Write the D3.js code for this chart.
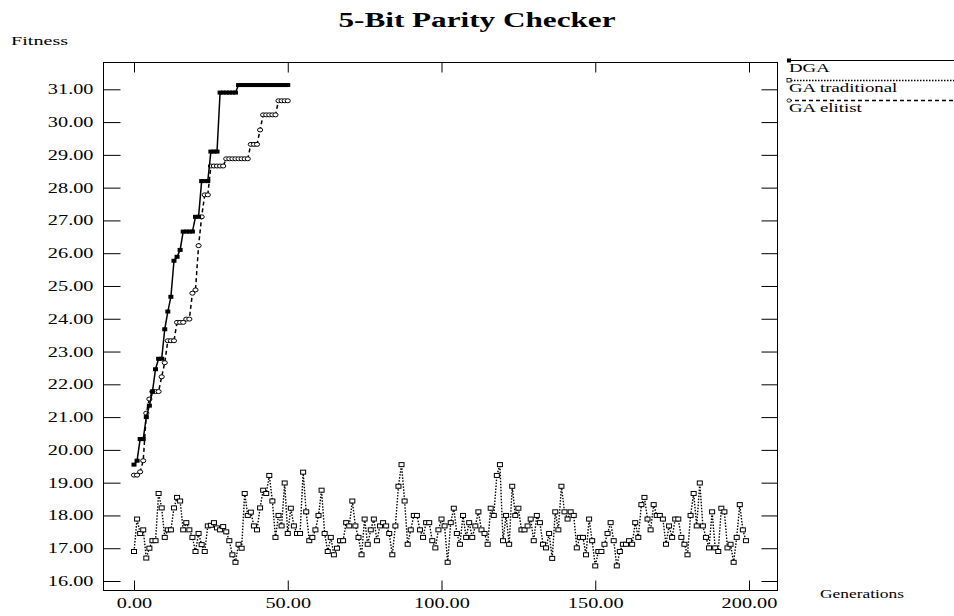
<!DOCTYPE html>
<html>
<head>
<meta charset="utf-8">
<script src="https://cdn.jsdelivr.net/npm/d3@7"></script>
<style>
  body { margin: 0; background: #fff; }
  svg { display: block; }
</style>
</head>
<body>
<svg id="chart" width="954" height="616"></svg>
<script>
// generations are the array index (0, 1, 2, ...)
const dgaValues = [
  19.55, 19.67, 20.33, 20.33, 21.0, 21.35, 21.78, 22.46, 22.78, 22.78,
  23.68, 24.22, 24.67, 25.77, 25.89, 26.10, 26.66, 26.66, 26.66, 26.66,
  27.11, 27.11, 28.2, 28.2, 28.2, 29.1, 29.1, 29.1, 30.9, 30.9,
  30.9, 30.9, 30.9, 30.9, 31.13, 31.13, 31.13, 31.13, 31.13, 31.13,
  31.13, 31.13, 31.13, 31.13, 31.13, 31.13, 31.13, 31.13, 31.13, 31.13,
  31.13
];

const elitistValues = [
  19.23, 19.23, 19.33, 19.67, 21.12, 21.55, 21.78, 21.78, 21.78, 22.23,
  22.66, 23.33, 23.33, 23.33, 23.89, 23.89, 23.89, 23.99, 23.99, 24.78,
  24.88, 26.23, 27.11, 27.78, 27.78, 28.66, 28.66, 28.66, 28.66, 28.66,
  28.88, 28.88, 28.88, 28.88, 28.88, 28.88, 28.88, 28.88, 29.32, 29.32,
  29.32, 29.76, 30.22, 30.22, 30.22, 30.22, 30.22, 30.65, 30.65, 30.65,
  30.65
];

const traditionalValues = [
  16.9, 17.89, 17.45, 17.56, 16.7, 17.0, 17.23, 17.23, 18.67, 18.23,
  17.33, 17.56, 17.56, 18.23, 18.55, 18.44, 17.56, 17.78, 17.56, 17.33,
  16.9, 17.45, 17.11, 16.9, 17.68, 17.7, 17.78, 17.62, 17.56, 17.66,
  17.5, 17.23, 16.8, 16.57, 17.12, 17.0, 18.67, 18.0, 18.1, 17.68,
  17.56, 18.23, 18.77, 18.67, 19.22, 18.44, 17.33, 18.0, 17.68, 18.99,
  17.45, 18.22, 17.68, 17.45, 17.45, 19.32, 18.11, 17.23, 17.33, 17.56,
  18.0, 18.77, 17.45, 16.9, 17.33, 16.8, 17.0, 17.23, 17.23, 17.78,
  17.68, 18.44, 17.68, 17.33, 16.8, 17.89, 17.12, 17.56, 17.89, 17.23,
  17.68, 17.78, 17.68, 17.45, 16.8, 17.68, 18.89, 19.55, 18.44, 17.12,
  17.56, 18.0, 18.0, 17.56, 17.33, 17.78, 17.78, 17.23, 17.01, 17.56,
  17.89, 17.68, 16.57, 17.78, 18.22, 17.45, 17.12, 18.0, 17.33, 17.78,
  17.33, 17.68, 18.11, 17.56, 17.45, 17.12, 18.22, 18.0, 19.22, 19.55,
  17.23, 18.0, 17.12, 18.89, 18.0, 18.22, 17.56, 17.56, 17.68, 17.89,
  17.23, 18.0, 17.78, 17.12, 17.01, 17.45, 16.69, 18.11, 17.56, 18.89,
  18.11, 17.89, 18.11, 18.0, 17.01, 17.33, 17.33, 16.8, 17.89, 17.23,
  16.46, 16.9, 16.9, 17.12, 17.45, 17.78, 17.23, 16.46, 16.9, 17.12,
  17.12, 17.23, 17.12, 17.78, 17.33, 18.33, 18.55, 17.89, 17.56, 18.33,
  18.0, 18.0, 17.89, 17.12, 17.68, 17.33, 17.89, 17.89, 17.33, 17.12,
  16.8, 18.0, 18.67, 17.68, 18.99, 17.68, 17.33, 17.01, 18.11, 17.01,
  16.9, 18.22, 18.11, 17.01, 17.12, 16.57, 17.33, 18.33, 17.56, 17.23
];

const xTicks = [0, 50, 100, 150, 200];
const yTicks = d3.range(16, 32);
const seriesNames = ["DGA", "GA traditional", "GA elitist"];

const SX = 1.45;           // text in the original is stretched sideways
const FONT = "'Liberation Serif', 'Times New Roman', serif";
const frame = { left: 103.5, right: 777.5, top: 62.5, bottom: 590.5 };

const svg = d3.select("#chart");

const x = d3.scaleLinear().domain([0, 200]).range([134, 749]);
const y = d3.scaleLinear().domain([16, 31]).range([581, 89.3]);

function stretchedText(px, py, str, size, anchor, weight, sx) {
  return svg.append("text")
    .attr("transform", `translate(${px},${py}) scale(${sx || SX},1)`)
    .attr("font-family", FONT)
    .attr("font-size", size)
    .attr("font-weight", weight || "normal")
    .attr("text-anchor", anchor || "start")
    .attr("fill", "#000")
    .text(str);
}

// title + axis names
stretchedText(477, 27, "5-Bit Parity Checker", 20, "middle", "bold", 1.56);
stretchedText(11, 45, "Fitness", 13, "start", "normal", 1.55);
stretchedText(820, 598, "Generations", 12);

// frame
svg.append("rect")
  .attr("x", frame.left)
  .attr("y", frame.top)
  .attr("width", frame.right - frame.left)
  .attr("height", frame.bottom - frame.top)
  .attr("fill", "none")
  .attr("stroke", "#000")
  .attr("stroke-width", 1);

const fmt = d3.format(".2f");

// bottom axis (ticks pointing up, labels below)
svg.append("g")
  .attr("transform", `translate(0,${frame.bottom})`)
  .call(d3.axisBottom(x).tickValues(xTicks).tickSizeInner(-10).tickSizeOuter(0).tickPadding(8).tickFormat(fmt))
  .call(g => g.select(".domain").remove())
  .call(g => g.selectAll("line").attr("stroke", "#000"))
  .call(g => g.selectAll("text")
    .attr("font-family", FONT)
    .attr("font-size", 14)
    .attr("fill", "#000")
    .attr("transform", `scale(${SX},1)`));

// top ticks
svg.append("g")
  .attr("transform", `translate(0,${frame.top})`)
  .call(d3.axisTop(x).tickValues(xTicks).tickSizeInner(-10).tickSizeOuter(0).tickFormat(""))
  .call(g => g.select(".domain").remove())
  .call(g => g.selectAll("line").attr("stroke", "#000"));

// left axis
svg.append("g")
  .attr("transform", `translate(${frame.left},0)`)
  .call(d3.axisLeft(y).tickValues(yTicks).tickSizeInner(-17).tickSizeOuter(0).tickPadding(10).tickFormat(fmt))
  .call(g => g.select(".domain").remove())
  .call(g => g.selectAll("line").attr("stroke", "#000"))
  .call(g => g.selectAll("text")
    .attr("font-family", FONT)
    .attr("font-size", 14)
    .attr("fill", "#000")
    .attr("x", -10 / SX)
    .attr("transform", `scale(${SX},1)`));

// right ticks
svg.append("g")
  .attr("transform", `translate(${frame.right},0)`)
  .call(d3.axisRight(y).tickValues(yTicks).tickSizeInner(-16).tickSizeOuter(0).tickFormat(""))
  .call(g => g.select(".domain").remove())
  .call(g => g.selectAll("line").attr("stroke", "#000"));

const line = d3.line()
  .x((d, i) => x(i))
  .y(d => y(d));

// GA traditional: dotted line, open squares
svg.append("path")
  .datum(traditionalValues)
  .attr("d", line)
  .attr("fill", "none")
  .attr("stroke", "#000")
  .attr("stroke-width", 1.4)
  .attr("stroke-dasharray", "1.5,1.5");

svg.append("g")
  .selectAll("rect")
  .data(traditionalValues)
  .join("rect")
  .attr("x", (d, i) => x(i) - 2.5)
  .attr("y", d => y(d) - 2)
  .attr("width", 5)
  .attr("height", 4)
  .attr("fill", "#fff")
  .attr("stroke", "#000")
  .attr("stroke-width", 1);

// GA elitist: dashed line, open circles
svg.append("path")
  .datum(elitistValues)
  .attr("d", line)
  .attr("fill", "none")
  .attr("stroke", "#000")
  .attr("stroke-width", 1.5)
  .attr("stroke-dasharray", "4,3");

svg.append("g")
  .selectAll("ellipse")
  .data(elitistValues)
  .join("ellipse")
  .attr("cx", (d, i) => x(i))
  .attr("cy", d => y(d))
  .attr("rx", 2.6)
  .attr("ry", 2)
  .attr("fill", "#fff")
  .attr("stroke", "#000")
  .attr("stroke-width", 1);

// DGA: solid line, filled squares
svg.append("path")
  .datum(dgaValues)
  .attr("d", line)
  .attr("fill", "none")
  .attr("stroke", "#000")
  .attr("stroke-width", 1.5);

svg.append("g")
  .selectAll("rect")
  .data(dgaValues)
  .join("rect")
  .attr("x", (d, i) => x(i) - 2.5)
  .attr("y", d => y(d) - 2)
  .attr("width", 5)
  .attr("height", 4)
  .attr("fill", "#000");

// legend, top right outside the frame
const legendY = [60.5, 80.5, 100.5];
const legendDash = [null, "1.5,1.5", "4,3"];

seriesNames.forEach((name, i) => {
  svg.append("line")
    .attr("x1", 788).attr("x2", 954)
    .attr("y1", legendY[i]).attr("y2", legendY[i])
    .attr("stroke", "#000")
    .attr("stroke-width", i === 0 ? 1 : 1.3)
    .attr("stroke-dasharray", legendDash[i]);

  if (i === 0) {
    svg.append("rect").attr("x", 787).attr("y", legendY[i] - 2).attr("width", 4).attr("height", 4).attr("fill", "#000");
  } else if (i === 1) {
    svg.append("rect").attr("x", 787).attr("y", legendY[i] - 2).attr("width", 4).attr("height", 3.5)
      .attr("fill", "#fff").attr("stroke", "#000").attr("stroke-width", 0.8);
  } else {
    svg.append("ellipse").attr("cx", 789).attr("cy", legendY[i]).attr("rx", 2).attr("ry", 1.7)
      .attr("fill", "#fff").attr("stroke", "#000").attr("stroke-width", 0.8);
  }

  stretchedText(789, legendY[i] + 11.5, name, 13);
});
</script>
</body>
</html>
